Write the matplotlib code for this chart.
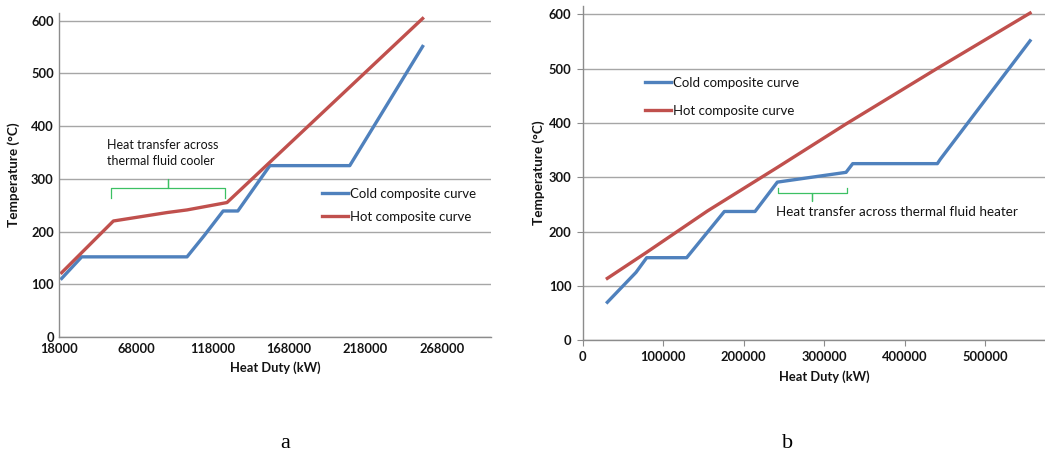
import matplotlib.pyplot as plt

# (a) composite curves with thermal fluid cooler
a_cold_q = [19500, 32600, 101400, 112800, 125000, 134600, 155500, 207700, 255300]
a_cold_t = [111, 152, 152, 193, 239, 239, 325, 325, 551]
a_hot_q = [19500, 53300, 88300, 101400, 127500, 255300]
a_hot_t = [122, 220, 236, 241, 255, 604]
a_ticks = [18000, 68000, 118000, 168000, 218000, 268000]

# (b) composite curves with thermal fluid heater
b_cold_q = [30600, 66200, 79500, 129100, 175900, 214000, 241700, 327000, 335300, 440400, 444000, 555500]
b_cold_t = [70, 125, 152, 152, 237, 237, 291, 309, 325, 325, 333, 551]
b_hot_q = [30600, 79500, 155000, 241700, 327000, 440000, 555500]
b_hot_t = [114, 162, 238, 318, 398, 500, 602]
b_ticks = [0, 100000, 200000, 300000, 400000, 500000]

temp_ticks = [0, 100, 200, 300, 400, 500, 600]

BLUE = '#4f81bd'
RED = '#c0504d'
GREEN = '#3cc063'
TXT = '#141414'

plt.rcParams['font.family'] = ['Lato', 'DejaVu Sans']

fig = plt.figure(figsize=(10.45, 4.54), dpi=100)
ax1 = fig.add_axes([0.0568, 0.2577, 0.4131, 0.7143])
ax2 = fig.add_axes([0.5576, 0.2504, 0.4624, 0.7364])


def style(ax, xticks, ticklen):
    for s in ('top', 'right'):
        ax.spines[s].set_visible(False)
    for s in ('left', 'bottom'):
        ax.spines[s].set_color('#8c8c8c')
        ax.spines[s].set_linewidth(1)
    ax.set_ylim(0, 615)
    ax.set_yticks(temp_ticks)
    ax.set_xticks(xticks)
    ax.set_xticklabels([str(v) for v in xticks])
    ax.grid(axis='y', color='#a6a6a6', lw=1)
    ax.set_axisbelow(True)
    ax.tick_params(length=ticklen, color='#8c8c8c', labelsize=9.3, labelcolor=TXT, pad=4)
    for lab in ax.get_xticklabels() + ax.get_yticklabels():
        lab.set_fontweight('bold')
    ax.set_xlabel('Heat Duty (kW)', fontsize=9.3, fontweight='bold', color=TXT, labelpad=5)
    ax.set_ylabel('Temperature (\u00b0C)', fontsize=9.8, fontweight='bold', color=TXT, labelpad=3)


def brace(ax, x0, x1, xm, y_end, y_bar, y_tip):
    ax.plot([x0, x0, xm, xm, xm, x1, x1],
            [y_end, y_bar, y_bar, y_tip, y_bar, y_bar, y_end],
            color=GREEN, lw=0.9, solid_joinstyle='round')


# left panel
ax1.plot(a_cold_q, a_cold_t, color=BLUE, lw=2.4, label='Cold composite curve')
ax1.plot(a_hot_q, a_hot_t, color=RED, lw=2.4, label='Hot composite curve')
ax1.set_xlim(18000, 300000)
style(ax1, a_ticks, 0)
ax1.yaxis.labelpad = 8
brace(ax1, 51800, 126000, 88900, 263, 282, 299)
ax1.text(49400, 375, 'Heat transfer across\nthermal fluid cooler', fontsize=9,
         color=TXT, va='top', ha='left', linespacing=1.35)
ax1.legend(loc='upper left', bbox_to_anchor=(0.6085, 0.46), frameon=False,
           borderpad=0, borderaxespad=0, handlelength=2.0, handletextpad=0.1,
           labelspacing=0.85, fontsize=9.5, labelcolor=TXT)

# right panel
ax2.plot(b_cold_q, b_cold_t, color=BLUE, lw=2.4, label='Cold composite curve')
ax2.plot(b_hot_q, b_hot_t, color=RED, lw=2.4, label='Hot composite curve')
ax2.set_xlim(0, 600000)
style(ax2, b_ticks, 4)
brace(ax2, 242100, 327800, 284900, 280, 271, 256)
ax2.text(239700, 236, 'Heat transfer across thermal fluid heater', fontsize=9.7,
         color=TXT, va='center', ha='left')
ax2.legend(loc='upper left', bbox_to_anchor=(0.129, 0.789), frameon=False,
           borderpad=0, borderaxespad=0, handlelength=2.0, handletextpad=0.15,
           labelspacing=1.25, fontsize=9.5, labelcolor=TXT)

fig.text(285 / 1045, 1 - 444 / 454, 'a', family='Liberation Serif', fontsize=16,
         ha='center', va='center')
fig.text(788 / 1045, 1 - 443 / 454, 'b', family='Liberation Serif', fontsize=16,
         ha='center', va='center')

fig.savefig('out.png', dpi=100)
